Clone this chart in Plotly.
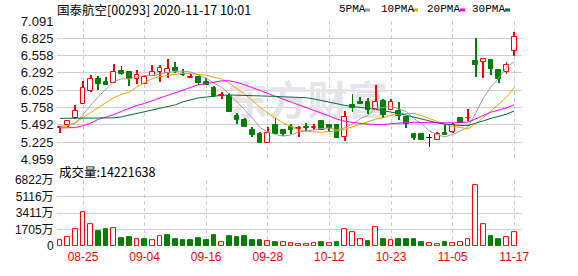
import plotly.graph_objects as go

# ---------------- data ----------------
tick_idx = [3, 11, 19, 27, 35, 43, 51, 59]
tick_text = ["08-25", "09-04", "09-16", "09-28", "10-12", "10-23", "11-05", "11-17"]

open_ = [5.44, 5.493, 5.592, 5.813, 6.011, 6.203, 6.159, 6.139, 6.322, 6.302,
         6.203, 6.114, 6.243, 6.307, 6.292, 6.371, 6.277, 6.213, 6.233, 6.154,
         6.065, 5.937, 5.942, 5.621, 5.567, 5.419, 5.355, 5.207, 5.488, 5.419,
         5.453, 5.424, 5.458, 5.449, 5.552, 5.488, 5.493, 5.305, 5.799, 5.848,
         5.848, 5.735, 5.858, 5.715, 5.700, 5.611, 5.355, 5.355, 5.291, 5.266,
         5.360, 5.379, 5.597, 5.592, 6.470, 6.465, 6.484, 6.341, 6.307, 6.628]
close = [5.46, 5.547, 5.700, 6.065, 6.198, 6.119, 6.105, 6.302, 6.277, 6.193,
         6.262, 6.228, 6.302, 6.361, 6.351, 6.327, 6.258, 6.228, 6.134, 6.109,
         5.937, 5.952, 5.690, 5.567, 5.453, 5.330, 5.207, 5.370, 5.345, 5.350,
         5.414, 5.439, 5.444, 5.463, 5.414, 5.449, 5.296, 5.606, 5.759, 5.809,
         5.715, 5.848, 5.651, 5.848, 5.630, 5.503, 5.296, 5.266, 5.291, 5.345,
         5.335, 5.488, 5.527, 5.601, 6.410, 6.499, 6.356, 6.193, 6.420, 6.850]
high = [5.478, 5.567, 5.804, 6.164, 6.262, 6.248, 6.233, 6.435, 6.401, 6.302,
        6.336, 6.258, 6.420, 6.410, 6.504, 6.455, 6.356, 6.277, 6.243, 6.208,
        6.085, 5.996, 5.986, 5.675, 5.592, 5.453, 5.379, 5.463, 5.592, 5.419,
        5.503, 5.478, 5.513, 5.508, 5.552, 5.488, 5.493, 5.710, 5.966, 5.922,
        5.907, 6.100, 5.887, 5.887, 5.848, 5.611, 5.355, 5.365, 5.345, 5.384,
        5.493, 5.513, 5.597, 5.739, 6.835, 6.529, 6.499, 6.351, 6.465, 6.923]
low = [5.370, 5.453, 5.577, 5.813, 5.996, 6.036, 6.105, 6.139, 6.267, 6.085,
       6.124, 6.114, 6.243, 6.159, 6.218, 6.292, 6.243, 6.208, 6.109, 6.100,
       5.917, 5.897, 5.690, 5.503, 5.453, 5.305, 5.207, 5.207, 5.345, 5.315,
       5.355, 5.305, 5.394, 5.414, 5.414, 5.389, 5.296, 5.236, 5.685, 5.809,
       5.666, 5.735, 5.592, 5.715, 5.562, 5.444, 5.266, 5.256, 5.148, 5.266,
       5.335, 5.365, 5.527, 5.552, 6.223, 6.208, 6.253, 6.144, 6.277, 6.553]
prev_close = 5.40

volume = [629, 927, 1722, 3550, 2219, 1557, 1755, 1822, 861, 960,
          729, 662, 629, 1027, 1159, 762, 563, 563, 861, 563,
          1159, 397, 1060, 960, 1060, 563, 563, 530, 364, 431,
          331, 166, 166, 265, 364, 331, 364, 1722, 1424, 729,
          464, 1921, 762, 629, 762, 662, 762, 364, 331, 232,
          364, 331, 431, 729, 6350, 2219, 1060, 662, 928, 1422]

ma5 = [5.47, 5.48, 5.51, 5.66, 5.794, 5.926, 6.037, 6.158, 6.200, 6.199,
       6.228, 6.252, 6.252, 6.269, 6.301, 6.314, 6.320, 6.305, 6.260, 6.211,
       6.133, 6.072, 5.964, 5.851, 5.720, 5.598, 5.449, 5.385, 5.341, 5.319,
       5.336, 5.383, 5.397, 5.421, 5.435, 5.442, 5.413, 5.446, 5.505, 5.584,
       5.637, 5.747, 5.756, 5.774, 5.738, 5.696, 5.586, 5.509, 5.397, 5.340,
       5.307, 5.345, 5.397, 5.459, 5.672, 5.905, 6.079, 6.212, 6.376, 6.464]
ma10 = [5.45, 5.48, 5.53, 5.60, 5.68, 5.76, 5.84, 5.91, 5.96, 5.997,
        6.077, 6.145, 6.205, 6.235, 6.250, 6.271, 6.286, 6.279, 6.264, 6.256,
        6.224, 6.196, 6.135, 6.055, 5.966, 5.866, 5.761, 5.675, 5.596, 5.520,
        5.467, 5.416, 5.391, 5.381, 5.377, 5.389, 5.398, 5.422, 5.463, 5.509,
        5.539, 5.580, 5.601, 5.640, 5.661, 5.667, 5.667, 5.633, 5.586, 5.539,
        5.501, 5.465, 5.453, 5.428, 5.506, 5.606, 5.712, 5.805, 5.917, 6.068]
ma20 = [5.444, 5.444, 5.45, 5.478, 5.52, 5.577, 5.61, 5.65, 5.70, 5.75,
        5.79, 5.823, 5.865, 5.907, 5.95, 5.986, 6.036, 6.08, 6.11, 6.126,
        6.150, 6.170, 6.170, 6.145, 6.108, 6.068, 6.023, 5.977, 5.930, 5.888,
        5.845, 5.806, 5.763, 5.718, 5.671, 5.627, 5.579, 5.548, 5.529, 5.514,
        5.503, 5.498, 5.496, 5.510, 5.519, 5.528, 5.532, 5.527, 5.524, 5.524,
        5.520, 5.523, 5.527, 5.534, 5.584, 5.636, 5.689, 5.719, 5.752, 5.804]
ma30 = [5.592, 5.592, 5.592, 5.592, 5.592, 5.592, 5.595, 5.60, 5.615, 5.64,
        5.67, 5.70, 5.72, 5.75, 5.775, 5.80, 5.848, 5.88, 5.907, 5.92,
        5.937, 5.945, 5.952, 5.95, 5.947, 5.94, 5.937, 5.935, 5.93, 5.924,
        5.923, 5.919, 5.910, 5.890, 5.864, 5.842, 5.815, 5.792, 5.774, 5.762,
        5.743, 5.731, 5.709, 5.692, 5.668, 5.640, 5.608, 5.576, 5.548, 5.523,
        5.503, 5.487, 5.482, 5.483, 5.515, 5.554, 5.592, 5.620, 5.655, 5.706]

price_ticks = [4.959, 5.225, 5.492, 5.758, 6.025, 6.292, 6.558, 6.825, 7.091]
price_labels = ["4.959", "5.225", "5.492", "5.758", "6.025", "6.292", "6.558", "6.825", "7.091"]
vol_ticks = [0, 1705.5, 3411, 5116.5, 6822]
vol_labels = ["0", "1705万", "3411万", "5116万", "6822万"]

title_text = "国泰航空[00293] 2020-11-17 10:01"
vol_text = "成交量:14221638"
watermark_text = "东方财富"
ma_names = ["5PMA", "10PMA", "20PMA", "30PMA"]

# ---------------- styles ----------------
RED = "#ff0000"
GREEN = "#008000"
MA_COLORS = ["#a0a0a0", "#f5a300", "#ff00ff", "#00703c"]
GRID = "#d0d0d0"
FRAME = "#999999"
W, H = 578, 276
ML, MR, MT, MB = 57, 56, 21, 21
PW, PH = W - ML - MR, H - MT - MB


def px(x):
    return (x - ML) / PW


def py(y):
    return (H - MB - y) / PH


n = len(close)
x = list(range(n))

body_fill, body_line, wick_col = [], [], []
for o, c in zip(open_, close):
    if c > o:
        body_fill.append("#ffffff"); body_line.append(RED); wick_col.append(RED)
    elif c < o:
        body_fill.append(GREEN); body_line.append(GREEN); wick_col.append(GREEN)
    else:
        body_fill.append("#000000"); body_line.append("#000000"); wick_col.append("#000000")

body_base = [min(o, c) for o, c in zip(open_, close)]
body_h = [max(abs(c - o), 0.003) for o, c in zip(open_, close)]
wick_h = [h - l for h, l in zip(high, low)]

prevs = [prev_close] + close[:-1]
vol_fill, vol_line = [], []
for c, p in zip(close, prevs):
    if c >= p:
        vol_fill.append("#ffffff"); vol_line.append(RED)
    else:
        vol_fill.append(GREEN); vol_line.append(GREEN)

fig = go.Figure()

# watermark (behind the candles)
fig.add_trace(go.Scatter(x=[32.2], y=[5.79], mode="text", text=[watermark_text],
                         textfont=dict(size=40, color="#e4e4e9", family="Noto Sans CJK SC",
                                       weight="bold"),
                         hoverinfo="skip", showlegend=False, xaxis="x", yaxis="y", zorder=0))

# wicks
fig.add_trace(go.Bar(x=x, y=wick_h, base=low, width=0.13,
                     marker=dict(color=wick_col, line=dict(width=0)),
                     showlegend=False, xaxis="x", yaxis="y", zorder=1))
# bodies
fig.add_trace(go.Bar(x=x, y=body_h, base=body_base, width=0.6,
                     marker=dict(color=body_fill, line=dict(color=body_line, width=1)),
                     showlegend=False, xaxis="x", yaxis="y", zorder=1))

# moving averages
for vals, col in zip([ma5, ma10, ma20, ma30], MA_COLORS):
    fig.add_trace(go.Scatter(x=x, y=vals, mode="lines", line=dict(color=col, width=1),
                             showlegend=False, xaxis="x", yaxis="y", zorder=2))

# volume
fig.add_trace(go.Bar(x=x, y=volume, width=0.62,
                     marker=dict(color=vol_fill, line=dict(color=vol_line, width=1)),
                     showlegend=False, xaxis="x2", yaxis="y2", zorder=1))

xr = [(ML - 59.9) / 7.7, (W - MR - 59.9) / 7.7]
axis_common = dict(showline=True, linecolor=FRAME, linewidth=1, mirror=True,
                   zeroline=False, ticks="", fixedrange=True)

fig.update_layout(
    width=W, height=H,
    margin=dict(l=ML, r=MR, t=MT, b=MB, pad=0),
    paper_bgcolor="#ffffff", plot_bgcolor="#ffffff",
    barmode="overlay", bargap=0,
    showlegend=False,
    font=dict(family="Liberation Sans, Arial", size=12, color="#111111"),
    xaxis=dict(domain=[0, 1], range=xr, anchor="y", tickvals=tick_idx,
               showticklabels=False, showgrid=True, gridcolor=GRID,
               griddash="4px,3px", **axis_common),
    yaxis=dict(domain=[py(165), 1], range=[price_ticks[0], price_ticks[-1]],
               tickvals=price_ticks, ticktext=price_labels, showgrid=True,
               gridcolor=GRID, tickfont=dict(size=13), anchor="x", **axis_common),
    xaxis2=dict(domain=[0, 1], range=xr, anchor="y2", tickvals=tick_idx,
                ticktext=tick_text, showgrid=True, gridcolor=GRID,
                griddash="4px,3px", tickfont=dict(size=12, color=RED), **axis_common),
    yaxis2=dict(domain=[0, py(186.5)], range=[0, vol_ticks[-1]], tickvals=vol_ticks,
                ticktext=vol_labels, showgrid=True, gridcolor=GRID,
                tickfont=dict(size=12, family="Liberation Sans, Noto Sans CJK SC"),
                anchor="x2", **axis_common),
)

annotations = [
    dict(x=px(55), y=py(9), xref="paper", yref="paper", xanchor="left", yanchor="middle",
         text=title_text, showarrow=False,
         font=dict(size=12.5, family="Noto Sans CJK SC", color="#000000")),
    dict(x=px(57), y=py(177), xref="paper", yref="paper", xanchor="left", yanchor="middle",
         text=vol_text, showarrow=False,
         font=dict(size=12.5, family="Noto Sans CJK SC", color="#000000")),
]
shapes = []
label_x = [337, 379, 425, 470]
swatch_x = [365, 413, 460, 505]
for name, lx, sx, col in zip(ma_names, label_x, swatch_x, MA_COLORS):
    annotations.append(dict(x=px(lx), y=py(9), xref="paper", yref="paper",
                            xanchor="left", yanchor="middle", text=name, showarrow=False,
                            font=dict(size=11, family="Liberation Mono", color="#000000")))
    shapes.append(dict(type="line", xref="paper", yref="paper",
                       x0=px(sx), x1=px(sx + 5), y0=py(9.5), y1=py(9.5),
                       line=dict(color=col, width=3)))

fig.update_layout(annotations=annotations, shapes=shapes)

fig.write_html("out.html")
